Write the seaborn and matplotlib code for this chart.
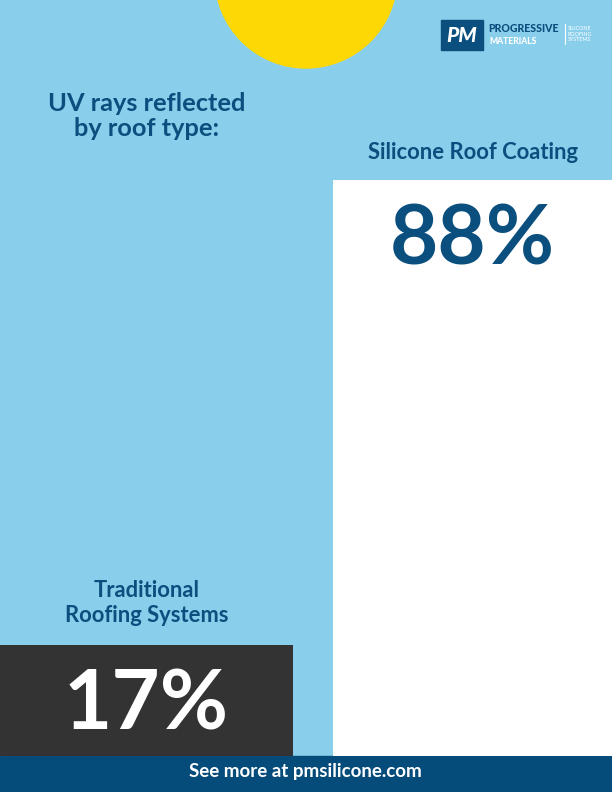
import matplotlib
matplotlib.use("Agg")
import matplotlib.pyplot as plt
from matplotlib.patches import Circle, Rectangle
import seaborn as sns
import pandas as pd

# data
roof_types = ["Traditional\nRoofing Systems", "Silicone Roof Coating"]
uv_reflected = [17, 88]
value_labels = ["17%", "88%"]

SKY = "#89CFEC"
NAVY = "#0A4F7D"
FOOTER = "#064C7B"
SUN = "#FDD804"
BAR_COLORS = ["#333333", "#FFFFFF"]
TEXT_ON_BAR = ["white", NAVY]

sns.set_style("white")
plt.rcParams["font.family"] = ["Lato", "DejaVu Sans"]

W, H = 612, 792
fig = plt.figure(figsize=(W / 100, H / 100), dpi=100, facecolor=SKY)

# decoration layer in pixel coords
bg = fig.add_axes([0, 0, 1, 1])
bg.set_xlim(0, W)
bg.set_ylim(H, 0)
bg.axis("off")
bg.add_patch(Circle((306, -23), 91, color=SUN, zorder=1))
bg.add_patch(Rectangle((0, 756), W, 36, color=FOOTER, zorder=1))
bg.text(305, 772, "See more at pmsilicone.com", color="white", fontsize=13.5,
        fontweight="bold", ha="center", va="center")
bg.text(147, 116, "UV rays reflected\nby roof type:", color=NAVY, fontsize=18.3,
        fontweight="bold", ha="center", va="center", linespacing=1.15)

# logo
bg.add_patch(Rectangle((441, 20), 42, 30, color=NAVY, zorder=2))
bg.text(462, 36, "PM", color="white", fontsize=15, fontweight="black",
        style="italic", ha="center", va="center", zorder=3)
bg.text(488, 29, "PROGRESSIVE", color=NAVY, fontsize=7.6, fontweight="black",
        ha="left", va="center")
bg.text(489, 42, "MATERIALS", color="white", fontsize=6.2, fontweight="black",
        ha="left", va="center")
bg.plot([565, 565], [24, 44], color="white", lw=0.8)
bg.text(568, 34, "SILICONE\nROOFING\nSYSTEMS", color="white", fontsize=3.9,
        ha="left", va="center", linespacing=1.2)

# bar layer
ax = fig.add_axes([0, 36 / H, 1, 756 / H])
ax.patch.set_alpha(0)
df = pd.DataFrame({"roof": roof_types, "uv": uv_reflected})
sns.barplot(data=df, x="roof", y="uv", hue="roof", palette=BAR_COLORS,
            width=0.9, saturation=1, legend=False, linewidth=0,
            edgecolor="none", ax=ax)
x0, x1 = -0.2825, 1.2475
ax.set_xlim(x0, x1)
ax.set_ylim(0, 88 * 756 / 576)
ax.axis("off")

bars = sorted(ax.patches, key=lambda p: p.get_x())
for bar, name, lab, tc in zip(bars, roof_types, value_labels, TEXT_ON_BAR):
    left = max(bar.get_x(), x0)
    right = min(bar.get_x() + bar.get_width(), x1)
    cx = (left + right) / 2
    top = bar.get_height()
    ax.annotate(name, xy=(cx, top), xytext=(0, 20 if "\n" not in name else 30),
                textcoords="offset points", ha="center", va="center",
                color=NAVY, fontsize=15.8, fontweight="bold", linespacing=1.2)
    ax.annotate(lab, xy=(cx, top), xytext=(0, -44), textcoords="offset points",
                ha="center", va="center", color=tc, fontsize=60,
                fontweight="bold")

fig.savefig("out.png", dpi=100, facecolor=SKY)
